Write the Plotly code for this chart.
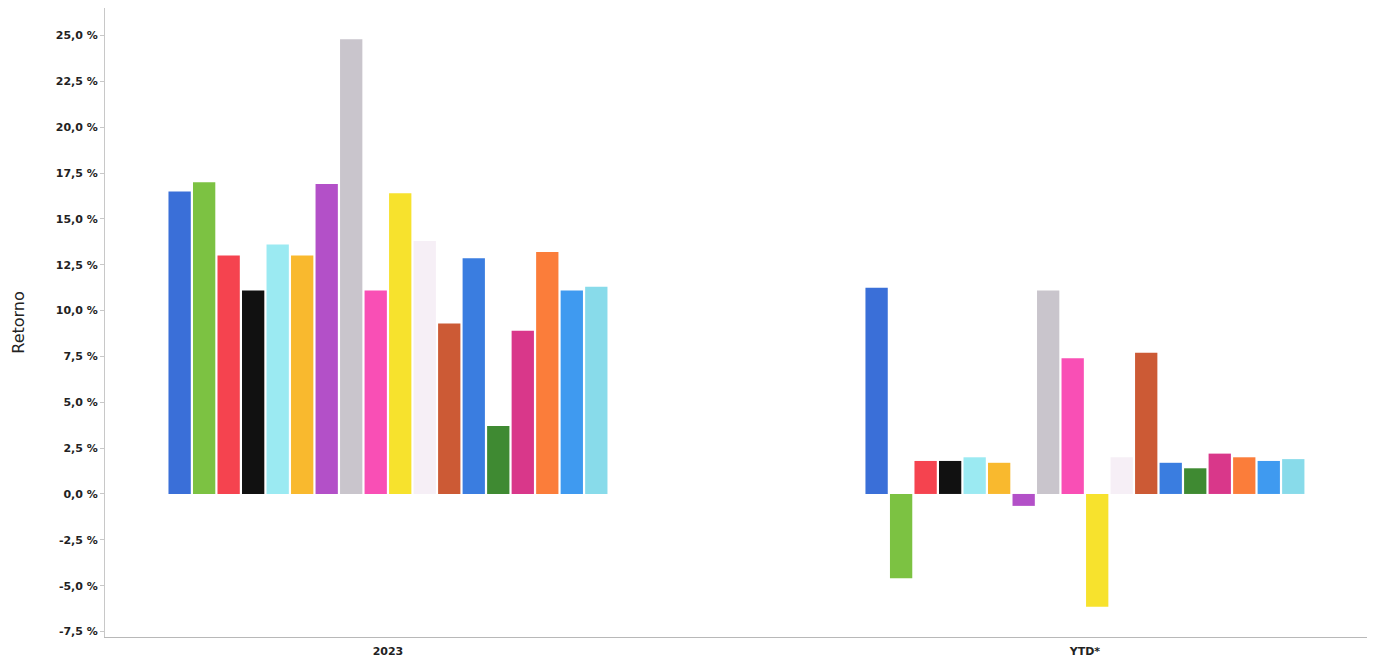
import plotly.graph_objects as go

categories = ["2023", "YTD*"]
series_names = [f"Serie {i}" for i in range(1, 19)]
values_2023 = [16.5, 17.0, 13.0, 11.1, 13.6, 13.0, 16.9, 24.8, 11.1, 16.4,
               13.8, 9.3, 12.85, 3.7, 8.9, 13.2, 11.1, 11.3]
values_ytd = [11.25, -4.6, 1.8, 1.8, 2.0, 1.7, -0.65, 11.1, 7.4, -6.15,
              2.0, 7.7, 1.7, 1.4, 2.2, 2.0, 1.8, 1.9]
colors = ["#3a6fd8", "#7cc242", "#f5434f", "#111111", "#9beaf2", "#f9b92e",
          "#b350c8", "#c9c5cc", "#f94fb5", "#f7e22d", "#f6eff6", "#cc5a35",
          "#3a7de0", "#3f8a32", "#d9378a", "#fb7d3a", "#3f9af0", "#88dbea"]
yticks = [-7.5, -5.0, -2.5, 0.0, 2.5, 5.0, 7.5, 10.0, 12.5, 15.0, 17.5, 20.0, 22.5, 25.0]
ytick_text = [f"{v:.1f}".replace(".", ",") + " %" for v in yticks]

fig = go.Figure()
for i, name in enumerate(series_names):
    fig.add_trace(go.Bar(
        x=[0, 1], y=[values_2023[i], values_ytd[i]], name=name,
        marker=dict(color=colors[i], line=dict(width=0)),
        showlegend=False,
    ))

fig.update_layout(
    barmode="group", bargap=0.367, bargroupgap=0.09,
    width=1367, height=653,
    margin=dict(l=97, r=5, t=0, b=24, autoexpand=False),
    paper_bgcolor="white", plot_bgcolor="white",
    separators=",.",
    font=dict(family="DejaVu Sans", color="#222"),
    xaxis=dict(range=[-0.406, 1.409], tickvals=[0, 1], ticktext=categories,
               showgrid=False, zeroline=False, showline=True, linecolor="#b8b8b8",
               linewidth=1, ticks="outside", ticklen=4, tickcolor="rgba(0,0,0,0)",
               automargin=False,
               tickfont=dict(size=11, color="#222", weight="bold")),
    yaxis=dict(range=[-7.8, 26.5], tickvals=yticks, ticktext=ytick_text,
               showgrid=False, zeroline=False, showline=True, linecolor="#c8c8c8",
               linewidth=1, ticks="outside", ticklen=4, tickcolor="#c8c8c8",
               automargin=False,
               tickfont=dict(size=11, color="#222", weight="bold"),
               title=dict(text="Retorno", font=dict(size=16, color="#222"), standoff=27)),
)

fig.write_html("out.html")
